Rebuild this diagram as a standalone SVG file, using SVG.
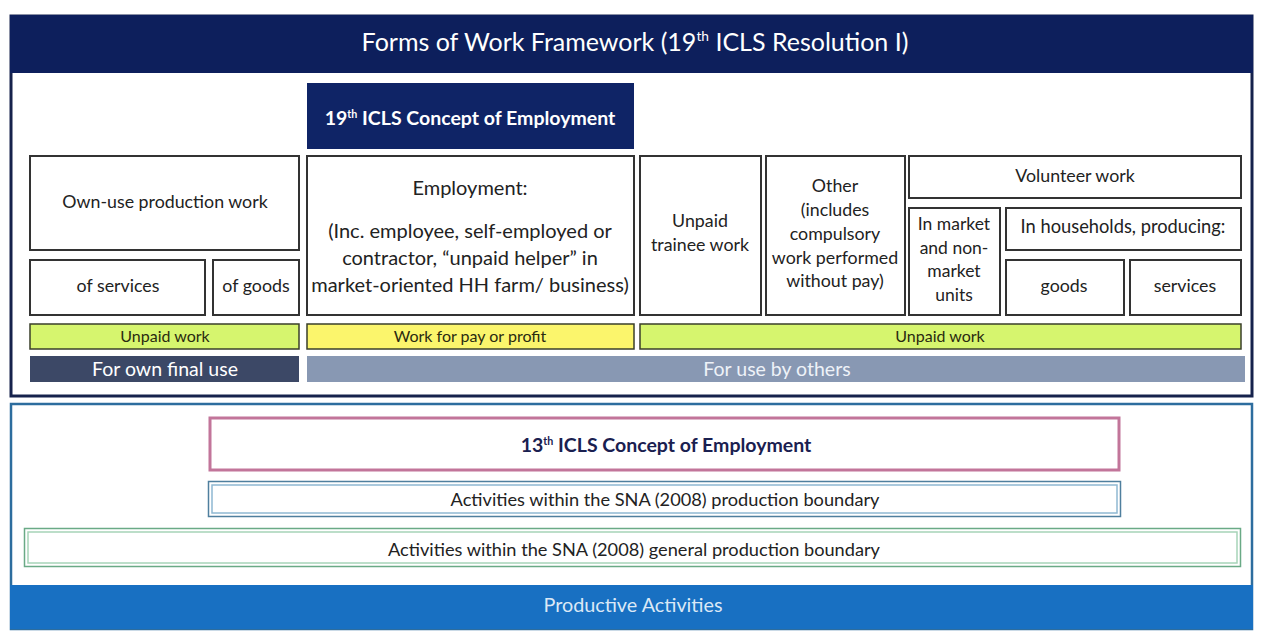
<svg xmlns="http://www.w3.org/2000/svg" width="1265" height="641" viewBox="0 0 1265 641">
<style>
text{font-family:Lato,"Open Sans","Liberation Sans",sans-serif;text-anchor:middle;fill:#222}
.box{fill:#fff;stroke:#333;stroke-width:2}
.t16{font-size:17.8px}
.t18{font-size:20px}
.t15{font-size:17.5px}
.bar{font-size:16px;fill:#2a2a10}
.w{fill:#fff}
.sup{font-size:0.55em}
</style>
<rect width="1265" height="641" fill="#fff"/>
<g id="top-frame">
<rect x="11" y="16" width="1241" height="380" fill="#fff" stroke="#16224c" stroke-width="3"/>
<rect x="10" y="15" width="1243" height="58" fill="#0d1f5c"/>
<text x="635" y="51" class="w" style="font-size:25px">Forms of Work Framework (19<tspan class="sup" dy="-10">th</tspan><tspan dy="10"> ICLS Resolution I)</tspan></text>
</g>
<g id="concept19">
<rect x="307" y="83" width="327" height="66" fill="#0f2466"/>
<text x="470" y="125" class="w" style="font-size:19.5px;font-weight:bold">19<tspan class="sup" dy="-7">th</tspan><tspan dy="7"> ICLS Concept of Employment</tspan></text>
</g>
<g id="own-use">
<rect class="box" x="30" y="156" width="269" height="94"/>
<text x="165" y="208" class="t16">Own-use production work</text>
</g>
<g id="of-services">
<rect class="box" x="30" y="260" width="175" height="55"/>
<text x="118" y="292" class="t16">of services</text>
</g>
<g id="of-goods">
<rect class="box" x="213" y="260" width="86" height="55"/>
<text x="256" y="292" class="t16">of goods</text>
</g>
<g id="employment">
<rect class="box" x="307" y="156" width="327" height="159"/>
<text x="470" y="195" class="t18">Employment:</text>
<text x="470" y="238" class="t18">(Inc. employee, self-employed or</text>
<text x="470" y="265" class="t18">contractor, “unpaid helper” in</text>
<text x="470" y="292" class="t18">market-oriented HH farm/ business)</text>
</g>
<g id="trainee">
<rect class="box" x="640" y="156" width="121" height="159"/>
<text x="700" y="227" class="t16">Unpaid</text>
<text x="700" y="251" class="t16">trainee work</text>
</g>
<g id="other">
<rect class="box" x="766" y="156" width="139" height="159"/>
<text x="835" y="192" class="t16">Other</text>
<text x="835" y="216" class="t16">(includes</text>
<text x="835" y="240" class="t16">compulsory</text>
<text x="835" y="264" class="t16">work performed</text>
<text x="835" y="287" class="t16">without pay)</text>
</g>
<g id="volunteer">
<rect class="box" x="909" y="156" width="332" height="42"/>
<text x="1075" y="182" class="t16">Volunteer work</text>
</g>
<g id="market-units">
<rect class="box" x="909" y="208" width="91" height="107"/>
<text x="954" y="230" class="t15">In market</text>
<text x="954" y="254" class="t15">and non-</text>
<text x="954" y="277" class="t15">market</text>
<text x="954" y="301" class="t15">units</text>
</g>
<g id="households">
<rect class="box" x="1006" y="208" width="235" height="42"/>
<text x="1123" y="233" style="font-size:18.3px">In households, producing:</text>
</g>
<g id="goods">
<rect class="box" x="1006" y="260" width="118" height="55"/>
<text x="1064" y="292" class="t16">goods</text>
</g>
<g id="services">
<rect class="box" x="1130" y="260" width="111" height="55"/>
<text x="1185" y="292" class="t16">services</text>
</g>
<g id="unpaid-own">
<rect x="30" y="324" width="269" height="25" fill="#d6f56e" stroke="#3a3f2a" stroke-width="1.5"/>
<text x="165" y="342" class="bar">Unpaid work</text>
</g>
<g id="pay-profit">
<rect x="307" y="324" width="327" height="25" fill="#fbf56c" stroke="#3a3f2a" stroke-width="1.5"/>
<text x="470" y="342" class="bar">Work for pay or profit</text>
</g>
<g id="unpaid-others">
<rect x="640" y="324" width="601" height="25" fill="#d6f56e" stroke="#3a3f2a" stroke-width="1.5"/>
<text x="940" y="342" class="bar">Unpaid work</text>
</g>
<g id="own-final-use">
<rect x="30" y="356" width="269" height="26" fill="#3c4866"/>
<text x="165" y="376" class="w" style="font-size:19.5px">For own final use</text>
</g>
<g id="use-by-others">
<rect x="307" y="356" width="938" height="26" fill="#8898b3"/>
<text x="777" y="376" style="font-size:19.5px;fill:#eef2f8">For use by others</text>
</g>
<g id="bottom-frame">
<rect x="11" y="404" width="1241" height="225" fill="#fff" stroke="#2d6d9e" stroke-width="2.5"/>
</g>
<g id="concept13">
<rect x="210" y="418" width="909" height="52" fill="#fff" stroke="#c2759a" stroke-width="3"/>
<text x="666" y="452" style="font-size:19.5px;font-weight:bold;fill:#1a2050">13<tspan class="sup" dy="-7">th</tspan><tspan dy="7"> ICLS Concept of Employment</tspan></text>
</g>
<g id="sna-boundary">
<rect x="208.5" y="481.5" width="912" height="35" fill="#fff" stroke="#4f7f9e" stroke-width="1.5"/>
<rect x="212" y="485" width="905" height="28" fill="none" stroke="#8fb8d2" stroke-width="1.5"/>
<text x="665" y="506" style="font-size:18.2px">Activities within the SNA (2008) production boundary</text>
</g>
<g id="sna-general">
<rect x="24.5" y="528.5" width="1216" height="38" fill="#fff" stroke="#6aaa86" stroke-width="1.5"/>
<rect x="28" y="532" width="1209" height="31" fill="none" stroke="#a6d4b8" stroke-width="1.5"/>
<text x="634" y="556" style="font-size:18.2px">Activities within the SNA (2008) general production boundary</text>
</g>
<g id="productive">
<rect x="10" y="585" width="1243" height="44" fill="#1870c2"/>
<text x="633" y="612" style="font-size:19.8px;fill:#dbe8f6">Productive Activities</text>
</g>
<g id="connectors"></g>
</svg>
